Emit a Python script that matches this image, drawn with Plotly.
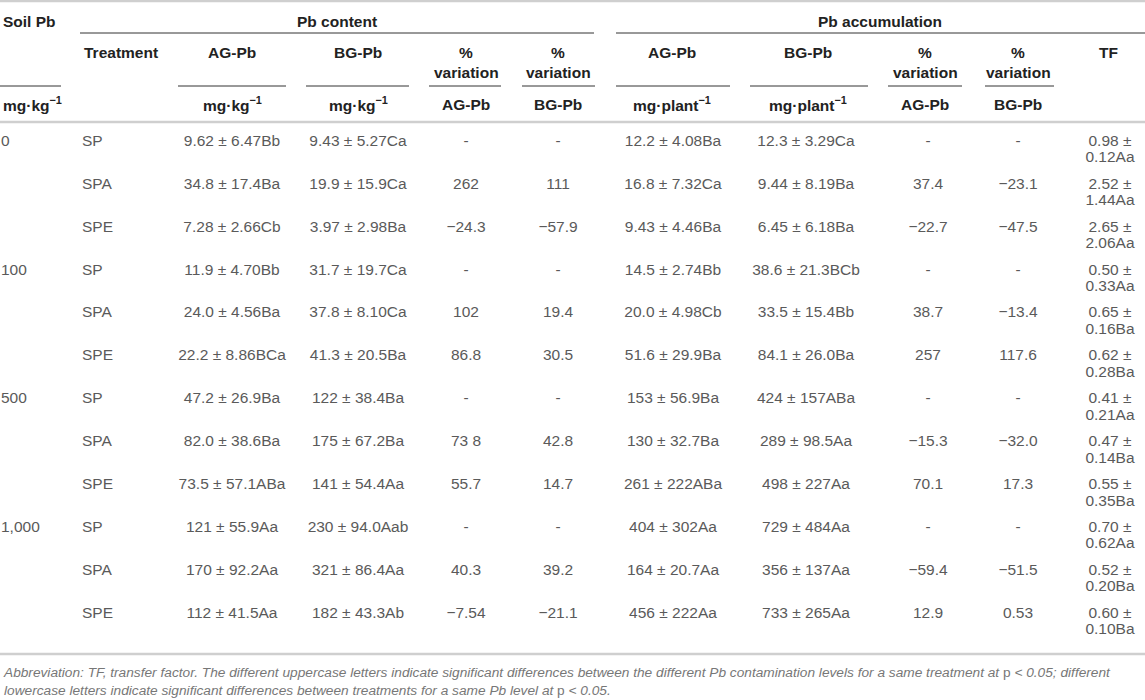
import numpy as np
import plotly.graph_objects as go

soil_pb = ["0", "", "", "100", "", "", "500", "", "", "1,000", "", ""]
treatment = ["SP", "SPA", "SPE"] * 4
ag_content = ["9.62 ± 6.47Bb", "34.8 ± 17.4Ba", "7.28 ± 2.66Cb", "11.9 ± 4.70Bb",
              "24.0 ± 4.56Ba", "22.2 ± 8.86BCa", "47.2 ± 26.9Ba", "82.0 ± 38.6Ba",
              "73.5 ± 57.1ABa", "121 ± 55.9Aa", "170 ± 92.2Aa", "112 ± 41.5Aa"]
bg_content = ["9.43 ± 5.27Ca", "19.9 ± 15.9Ca", "3.97 ± 2.98Ba", "31.7 ± 19.7Ca",
              "37.8 ± 8.10Ca", "41.3 ± 20.5Ba", "122 ± 38.4Ba", "175 ± 67.2Ba",
              "141 ± 54.4Aa", "230 ± 94.0Aab", "321 ± 86.4Aa", "182 ± 43.3Ab"]
var_ag_content = ["-", "262", "−24.3", "-", "102", "86.8", "-", "73 8", "55.7", "-", "40.3", "−7.54"]
var_bg_content = ["-", "111", "−57.9", "-", "19.4", "30.5", "-", "42.8", "14.7", "-", "39.2", "−21.1"]
ag_acc = ["12.2 ± 4.08Ba", "16.8 ± 7.32Ca", "9.43 ± 4.46Ba", "14.5 ± 2.74Bb",
          "20.0 ± 4.98Cb", "51.6 ± 29.9Ba", "153 ± 56.9Ba", "130 ± 32.7Ba",
          "261 ± 222ABa", "404 ± 302Aa", "164 ± 20.7Aa", "456 ± 222Aa"]
bg_acc = ["12.3 ± 3.29Ca", "9.44 ± 8.19Ba", "6.45 ± 6.18Ba", "38.6 ± 21.3BCb",
          "33.5 ± 15.4Bb", "84.1 ± 26.0Ba", "424 ± 157ABa", "289 ± 98.5Aa",
          "498 ± 227Aa", "729 ± 484Aa", "356 ± 137Aa", "733 ± 265Aa"]
var_ag_acc = ["-", "37.4", "−22.7", "-", "38.7", "257", "-", "−15.3", "70.1", "-", "−59.4", "12.9"]
var_bg_acc = ["-", "−23.1", "−47.5", "-", "−13.4", "117.6", "-", "−32.0", "17.3", "-", "−51.5", "0.53"]
tf = ["0.98 ± 0.12Aa", "2.52 ± 1.44Aa", "2.65 ± 2.06Aa", "0.50 ± 0.33Aa",
      "0.65 ± 0.16Ba", "0.62 ± 0.28Ba", "0.41 ± 0.21Aa", "0.47 ± 0.14Ba",
      "0.55 ± 0.35Ba", "0.70 ± 0.62Aa", "0.52 ± 0.20Ba", "0.60 ± 0.10Ba"]

footnote = ("<i>Abbreviation: TF, transfer factor. The different uppercase letters indicate significant "
            "differences between the different Pb contamination levels for a same treatment at </i>p<i> &lt; 0.05; different</i><br>"
            "<i>lowercase letters indicate significant differences between treatments for a same Pb level at </i>p<i> &lt; 0.05.</i>")

# table geometry (pixels)
W, H = 1145, 700
ROW0, ROW_H, LINE2 = 142, 42.9, 16.5
FONT = "Liberation Sans, Arial, sans-serif"
BODY_C, HEAD_C, RULE_C = "#5a5a5a", "#222222", "#cfcfcf"
SIZE = 15.5

# (values, x, anchor)
columns = [
    (soil_pb, 1, "left"),
    (treatment, 82, "left"),
    (ag_content, 232, "center"),
    (bg_content, 358, "center"),
    (var_ag_content, 466, "center"),
    (var_bg_content, 558, "center"),
    (ag_acc, 673, "center"),
    (bg_acc, 806, "center"),
    (var_ag_acc, 928, "center"),
    (var_bg_acc, 1018, "center"),
]
tf_x = 1110

rows_y = ROW0 + ROW_H * np.arange(len(treatment))

fig = go.Figure()
for vals, x, anchor in columns:
    keep = [i for i, v in enumerate(vals) if v]
    fig.add_trace(go.Scatter(
        x=[x] * len(keep), y=rows_y[keep], mode="text", text=[vals[i] for i in keep],
        textposition="middle right" if anchor == "left" else "middle center",
        textfont=dict(family=FONT, size=SIZE, color=BODY_C),
        hoverinfo="skip", showlegend=False, cliponaxis=False,
    ))

tf_top = [t.split(" ± ")[0] + " ±" for t in tf]
tf_bottom = [t.split(" ± ")[1] for t in tf]
for vals, dy in [(tf_top, 0), (tf_bottom, LINE2)]:
    fig.add_trace(go.Scatter(
        x=[tf_x] * len(vals), y=rows_y + dy, mode="text", text=vals,
        textposition="middle center",
        textfont=dict(family=FONT, size=SIZE, color=BODY_C),
        hoverinfo="skip", showlegend=False, cliponaxis=False,
    ))

# header texts: (text, x, y, xanchor)
header = [
    ("Soil Pb", 1, 21, "left"),
    ("Pb content", 337, 21, "center"),
    ("Pb accumulation", 880, 21, "center"),
    ("Treatment", 82, 52, "left"),
    ("AG-Pb", 232, 52, "center"),
    ("BG-Pb", 358, 52, "center"),
    ("%", 466, 52, "center"),
    ("variation", 466, 72, "center"),
    ("%", 558, 52, "center"),
    ("variation", 558, 72, "center"),
    ("AG-Pb", 672, 52, "center"),
    ("BG-Pb", 808, 52, "center"),
    ("%", 925, 52, "center"),
    ("variation", 925, 72, "center"),
    ("%", 1018, 52, "center"),
    ("variation", 1018, 72, "center"),
    ("TF", 1108, 52, "center"),
    ("mg·kg<sup>−1</sup>", 1, 104, "left"),
    ("mg·kg<sup>−1</sup>", 232, 104, "center"),
    ("mg·kg<sup>−1</sup>", 358, 104, "center"),
    ("AG-Pb", 466, 104, "center"),
    ("BG-Pb", 558, 104, "center"),
    ("mg·plant<sup>−1</sup>", 672, 104, "center"),
    ("mg·plant<sup>−1</sup>", 808, 104, "center"),
    ("AG-Pb", 925, 104, "center"),
    ("BG-Pb", 1018, 104, "center"),
]
for text, x, y, xa in header:
    fig.add_annotation(x=x, y=y, text="<b>%s</b>" % text, showarrow=False,
                       xanchor=xa, yanchor="middle",
                       font=dict(family=FONT, size=SIZE, color=HEAD_C))

fig.add_annotation(x=1, y=681, text=footnote, showarrow=False, xanchor="left",
                   yanchor="middle", align="left",
                   font=dict(family=FONT, size=13.7, color="#777777"))

# grey rules across the table
for y in [1, 122, 654]:
    fig.add_shape(type="line", x0=0, x1=W, y0=y, y1=y, line=dict(color=RULE_C, width=2.5))

# dark spanner / column rules: (x0, x1, y)
underlines = [
    (80, 594, 33), (616, W, 33),
    (0, 61, 86), (178, 286, 86), (306, 409, 86), (429, 501, 86), (522, 595, 86),
    (616, 730, 86), (750, 868, 86), (888, 962, 86), (985, 1054, 86),
]
for x0, x1, y in underlines:
    fig.add_shape(type="line", x0=x0, x1=x1, y0=y, y1=y, line=dict(color="#333333", width=1))

fig.update_layout(
    width=W, height=H,
    margin=dict(l=0, r=0, t=0, b=0),
    paper_bgcolor="white", plot_bgcolor="white",
    xaxis=dict(range=[0, W], visible=False, fixedrange=True),
    yaxis=dict(range=[H, 0], visible=False, fixedrange=True),
)

fig.write_html("out.html", config={"displayModeBar": False},
               post_script="document.body.style.margin='0';")
